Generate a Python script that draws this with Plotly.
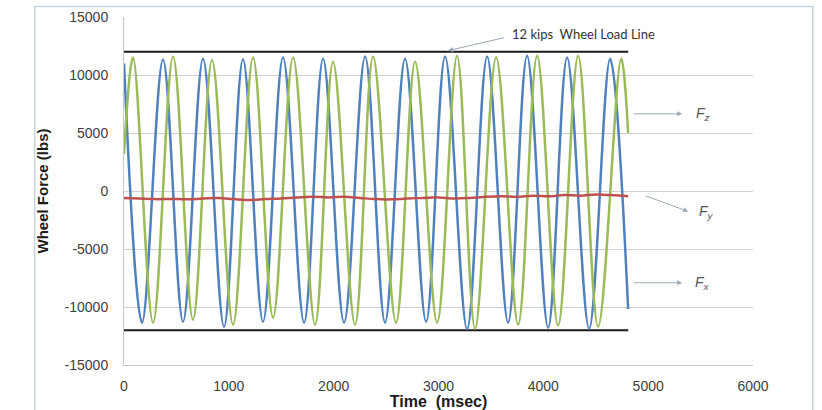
import plotly.graph_objects as go

# Fz (green) extrema: time (ms), force (lbs)
fz_time = [0, 86, 277, 468, 658, 840, 1040, 1231, 1422, 1613, 1823, 1994, 2204, 2376,
           2595, 2777, 2987, 3177, 3349, 3550, 3760, 3941, 4141, 4332, 4523, 4742, 4809]
fz_force = [3200, 11500, -11350, 11590, -11100, 11300, -11520, 11500, -10920, 11500, -11520,
            11150, -11520, 11590, -11350, 11150, -11350, 11670, -11870, 11500, -11520,
            11670, -11600, 11670, -11700, 11400, 5000]

# Fx (blue) extrema
fx_time = [0, 172, 372, 563, 754, 954, 1135, 1326, 1517, 1718, 1899, 2099, 2300, 2490,
           2681, 2882, 3063, 3273, 3464, 3664, 3845, 4046, 4227, 4437, 4637, 4809]
fx_force = [11000, -11350, 11330, -11270, 11400, -11700, 11350, -11270, 11500, -11350,
            11400, -11350, 11590, -11350, 11400, -11270, 11590, -11900, 11590, -11350,
            11670, -11780, 11500, -11870, 11400, -10170]

# Fy (red)
fy_time = [0, 150, 300, 450, 600, 750, 900, 1050, 1200, 1350, 1500, 1650, 1800, 1950,
           2100, 2250, 2400, 2550, 2700, 2850, 3000, 3150, 3300, 3450, 3600, 3750, 3900,
           4050, 4200, 4350, 4500, 4650, 4809]
fy_force = [-600, -650, -700, -680, -720, -650, -600, -700, -780, -700, -650, -550, -500,
            -550, -500, -600, -700, -720, -650, -600, -550, -650, -600, -500, -450, -500,
            -400, -450, -350, -400, -300, -350, -450]

# 12 kips wheel load lines
load_time = [0, 4810]
load_upper = [12000, 12000]
load_lower = [-12000, -12000]

x_ticks = [0, 1000, 2000, 3000, 4000, 5000, 6000]
y_ticks = [-15000, -10000, -5000, 0, 5000, 10000, 15000]
y_tick_labels = ["-15000", "-10000", "-5000", "0", "5000", "10000", "15000"]

fig = go.Figure()
fig.add_trace(go.Scatter(x=load_time, y=load_upper, mode="lines",
                         line=dict(color="#1a1a1a", width=2), showlegend=False))
fig.add_trace(go.Scatter(x=load_time, y=load_lower, mode="lines",
                         line=dict(color="#1a1a1a", width=2), showlegend=False))
fig.add_trace(go.Scatter(x=fx_time, y=fx_force, mode="lines",
                         line=dict(color="#4f81bd", width=2.5, shape="spline", smoothing=1.0),
                         showlegend=False))
fig.add_trace(go.Scatter(x=fz_time, y=fz_force, mode="lines",
                         line=dict(color="#9bbb59", width=2.5, shape="spline", smoothing=1.0),
                         showlegend=False))
fig.add_trace(go.Scatter(x=fy_time, y=fy_force, mode="lines",
                         line=dict(color="#c0504d", width=2.5, shape="spline"),
                         showlegend=False))

arrow_col = "#9aa8b4"
label_font = dict(family="Liberation Sans, Arial", size=14, color="#555555")

annotations = [
    dict(x=3680, y=13550, xref="x", yref="y", text="12 kips  Wheel Load Line",
         showarrow=False, xanchor="left", yanchor="middle",
         font=dict(family="Lato, Open Sans", size=13, color="#333333")),
    dict(x=3092, y=12100, ax=3640, ay=13250, xref="x", yref="y", axref="x", ayref="y",
         text="", showarrow=True, arrowhead=2, arrowsize=1, arrowwidth=1, arrowcolor=arrow_col),
    dict(x=5324, y=6650, ax=4850, ay=6650, xref="x", yref="y", axref="x", ayref="y",
         text="", showarrow=True, arrowhead=2, arrowsize=1, arrowwidth=1, arrowcolor=arrow_col),
    dict(x=5382, y=-1760, ax=4962, ay=-370, xref="x", yref="y", axref="x", ayref="y",
         text="", showarrow=True, arrowhead=2, arrowsize=1, arrowwidth=1, arrowcolor=arrow_col),
    dict(x=5324, y=-7910, ax=4850, ay=-7910, xref="x", yref="y", axref="x", ayref="y",
         text="", showarrow=True, arrowhead=2, arrowsize=1, arrowwidth=1, arrowcolor=arrow_col),
    dict(x=5440, y=6650, xref="x", yref="y", text="<i>F</i><sub><i>z</i></sub>",
         showarrow=False, xanchor="left", font=label_font),
    dict(x=5470, y=-1850, xref="x", yref="y", text="<i>F</i><sub><i>y</i></sub>",
         showarrow=False, xanchor="left", font=label_font),
    dict(x=5430, y=-7910, xref="x", yref="y", text="<i>F</i><sub><i>x</i></sub>",
         showarrow=False, xanchor="left", font=label_font),
]

fig.update_layout(
    width=822, height=410,
    margin=dict(l=124, r=69, t=17, b=45),
    paper_bgcolor="white", plot_bgcolor="white",
    font=dict(family="Liberation Sans, Arial", size=14, color="#404040"),
    annotations=annotations,
    shapes=[dict(type="rect", xref="paper", yref="paper",
                 x0=-0.142, x1=1.095, y0=-0.135, y1=1.03,
                 line=dict(color="#c5d3dd", width=1.5), layer="below")],
)
fig.update_xaxes(range=[0, 6000], tickvals=x_ticks, tickformat="d", showgrid=False,
                 zeroline=False, showline=True, linecolor="#c8c8c8", linewidth=1,
                 ticks="", ticklabelstandoff=8, automargin=False,
                 title=dict(text="<b>Time  (msec)</b>", standoff=2,
                            font=dict(size=16, color="#1a1a1a")))
fig.update_yaxes(range=[-15000, 15000], tickvals=y_ticks, ticktext=y_tick_labels,
                 showgrid=True, gridcolor="#d0d0d0", gridwidth=1, zeroline=False,
                 showline=True, linecolor="#c8c8c8", linewidth=1, ticks="",
                 ticklabelstandoff=12, automargin=False,
                 title=dict(text="<b>Wheel Force (lbs)</b>", standoff=12,
                            font=dict(size=15, color="#1a1a1a")))

fig.write_html("out.html")
